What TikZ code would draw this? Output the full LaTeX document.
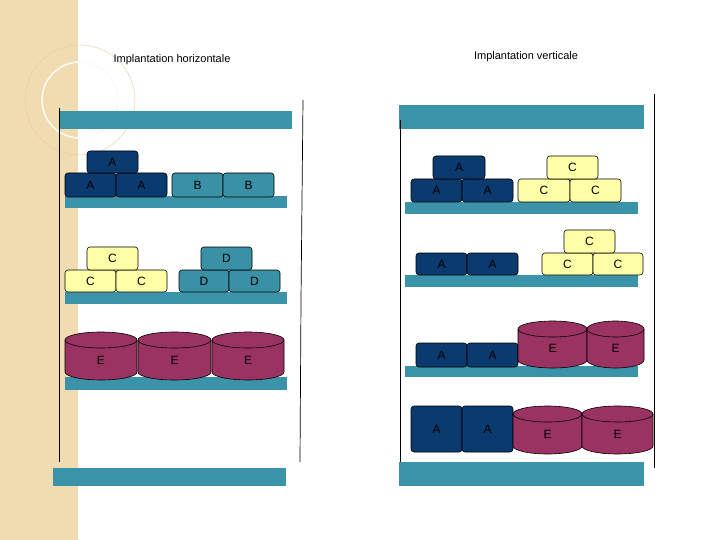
\documentclass[tikz,border=0pt]{standalone}
\usepackage{fontspec}
\setmainfont{Liberation Sans}
\definecolor{beige}{HTML}{F0DCB0}
\definecolor{bar}{HTML}{3A93A8}
\definecolor{dblue}{HTML}{0B3A6E}
\definecolor{yel}{HTML}{FFFFA8}
\definecolor{tealb}{HTML}{3A90A5}
\definecolor{maroon}{HTML}{9B3362}
\newcommand\bx[7]{\draw[rounded corners=3pt,fill=#6,line width=0.6pt] (#2,#3) rectangle (#4,#5);
 \node[lbl] (#1) at ({(#2+#4)/2},{(#3+#5)/2}) {#7};}
\newcommand\cyl[5]{%
 \pgfmathsetmacro\rx{(#3-#2)/2}%
 \draw[fill=maroon,line width=0.6pt] (#2,#4+8) -- (#2,#5-8) arc[start angle=180,end angle=360,x radius=\rx pt,y radius=8pt] -- (#3,#4+8) arc[start angle=0,end angle=180,x radius=\rx pt,y radius=8pt] -- cycle;
 \draw[line width=0.6pt] (#2,#4+8) arc[start angle=180,end angle=360,x radius=\rx pt,y radius=8pt];
 \node[lbl] (#1) at ({(#2+#3)/2},{(#4+#5)/2+4}) {E};}
\begin{document}
\begin{tikzpicture}[x=1pt,y=-1pt,lbl/.style={font=\fontsize{12}{14}\selectfont,inner sep=0pt},
 shelfbar/.style={fill=bar,draw=none}]
\useasboundingbox (0,0) rectangle (720,540);
\fill[white] (0,0) rectangle (720,540);
\fill[beige] (0,0) rectangle (78,540);
\draw[white!90!beige,line width=1.5pt] (80,100) circle[radius=38pt];
\draw[beige!80!brown,line width=0.4pt] (80,100) circle[radius=55pt];
\node[font=\fontsize{11}{13}\selectfont] (t1) at (172,60) {Implantation horizontale};
\node[font=\fontsize{11}{13}\selectfont] (t2) at (526,57) {Implantation verticale};
% left unit
\fill[shelfbar] (59,111) rectangle (292,129);
\fill[shelfbar] (53,468) rectangle (286,486);
\fill[shelfbar] (65,196) rectangle (287,208);
\fill[shelfbar] (65,292) rectangle (287,304);
\fill[shelfbar] (65,377) rectangle (287,390);
\draw[line width=0.7pt] (59,108) -- (59,462);
\draw[line width=0.7pt] (303,100) -- (301,300) -- (300,462);
\bx{a1}{65}{173}{116}{197}{dblue}{A}
\bx{a2}{116}{173}{167}{197}{dblue}{A}
\bx{a3}{87}{151}{138}{173}{dblue}{A}
\bx{b1}{172}{173}{223}{197}{tealb}{B}
\bx{b2}{223}{173}{274}{197}{tealb}{B}
\bx{c1}{65}{270}{116}{292}{yel}{C}
\bx{c2}{116}{270}{167}{292}{yel}{C}
\bx{c3}{87}{247}{138}{270}{yel}{C}
\bx{d1}{179}{270}{229}{292}{tealb}{D}
\bx{d2}{229}{270}{280}{292}{tealb}{D}
\bx{d3}{201}{247}{252}{270}{tealb}{D}
\cyl{e1}{65}{137}{332}{380}
\cyl{e2}{138}{211}{332}{380}
\cyl{e3}{212}{284}{332}{380}
% right unit
\fill[shelfbar] (399,105) rectangle (644,129);
\fill[shelfbar] (399,462) rectangle (644,486);
\fill[shelfbar] (405,202) rectangle (638,214);
\fill[shelfbar] (405,275) rectangle (638,287);
\fill[shelfbar] (405,366) rectangle (638,377);
\draw[line width=0.7pt] (400,120) -- (400,462);
\draw[line width=0.7pt] (654,94) -- (654,468);
\bx{ra1}{411}{179}{462}{202}{dblue}{A}
\bx{ra2}{462}{179}{513}{202}{dblue}{A}
\bx{ra3}{433}{156}{485}{179}{dblue}{A}
\bx{rc1}{518}{179}{570}{202}{yel}{C}
\bx{rc2}{570}{179}{621}{202}{yel}{C}
\bx{rc3}{547}{156}{598}{179}{yel}{C}
\bx{ra4}{416}{253}{467}{275}{dblue}{A}
\bx{ra5}{467}{253}{518}{275}{dblue}{A}
\bx{rc4}{542}{253}{593}{275}{yel}{C}
\bx{rc5}{593}{253}{643}{275}{yel}{C}
\bx{rc6}{564}{230}{615}{253}{yel}{C}
\bx{ra6}{416}{343}{467}{367}{dblue}{A}
\bx{ra7}{467}{343}{518}{367}{dblue}{A}
\cyl{re1}{518}{587}{321}{368}
\cyl{re2}{587}{644}{321}{368}
\bx{ra8}{411}{406}{462}{452}{dblue}{A}
\bx{ra9}{462}{406}{513}{452}{dblue}{A}
\cyl{re3}{513}{582}{406}{454}
\cyl{re4}{582}{653}{406}{454}
\end{tikzpicture}
\end{document}
